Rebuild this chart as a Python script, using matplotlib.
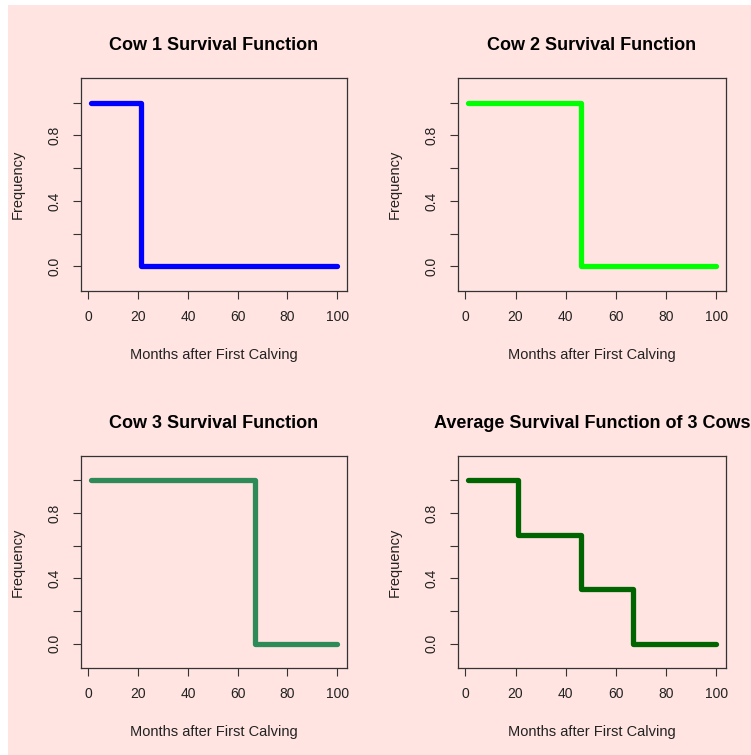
import numpy as np
import matplotlib
matplotlib.use("Agg")
import matplotlib.pyplot as plt
from matplotlib.patches import Rectangle

plt.rcParams['font.family'] = ['Liberation Sans', 'DejaVu Sans']

months = list(range(1, 101))
death_months = [21, 46, 67]
titles = ["Cow 1 Survival Function", "Cow 2 Survival Function",
          "Cow 3 Survival Function", "Average Survival Function of 3 Cows"]
colors = ["#0000FF", "#00FF00", "#2E8B57", "#006400"]
xlabel = "Months after First Calving"
ylabel = "Frequency"
xticks = [0, 20, 40, 60, 80, 100]
yticks = [0.0, 0.2, 0.4, 0.6, 0.8, 1.0]
ytick_labels = ["0.0", "", "0.4", "", "0.8", ""]

m = np.array(months)
series = [(m < d).astype(float) for d in death_months]
series.append(np.mean(series, axis=0))

W, H = 751, 755
fig = plt.figure(figsize=(W / 100, H / 100), dpi=100)
fig.patches.append(Rectangle((8 / W, 0), 1 - 8 / W, 1 - 5 / H, transform=fig.transFigure,
                             facecolor="#FFE4E1", edgecolor="none", zorder=-10))

# pixel boxes: left, top, right, bottom
boxes = [(81, 78, 347, 291), (458, 78, 726, 291),
         (81, 456, 347, 668), (458, 456, 726, 668)]

for (l, t, r, b), y, c, ttl in zip(boxes, series, colors, titles):
    ax = fig.add_axes([l / W, 1 - b / H, (r - l) / W, (b - t) / H])
    ax.set_zorder(1)
    ax.patch.set_alpha(0)
    ax.step(m, y, where='post', color=c, lw=3.8, solid_capstyle='round',
            solid_joinstyle='round')
    ax.set_xlim(-2.96, 103.96)
    ax.set_ylim(-0.15, 1.15)
    ax.set_xticks(xticks)
    ax.set_yticks(yticks)
    ax.set_yticklabels(ytick_labels, rotation=90, va='center')
    ax.tick_params(direction='out', length=6, width=0.8, color='#333333',
                   labelsize=10, pad=8, labelcolor='#222222')
    for s in ax.spines.values():
        s.set_color('#333333')
        s.set_linewidth(0.9)
    fig.text((l + r) / 2 / W, 1 - (t - 33) / H, ttl, ha='center', va='center',
             fontsize=13, fontweight='bold')
    fig.text((l + r) / 2 / W, 1 - (b + 64) / H, xlabel, ha='center', va='center',
             fontsize=10.5, color='#222222')
    fig.text((l - 63) / W, 1 - (t + b) / 2 / H, ylabel, ha='center', va='center',
             rotation=90, fontsize=10.5, color='#222222')

fig.savefig("out.png", dpi=100)
